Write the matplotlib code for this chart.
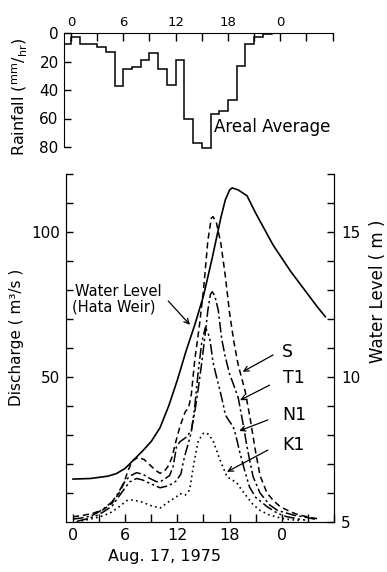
import numpy as np
import matplotlib
matplotlib.use("Agg")
import matplotlib.pyplot as plt

# hourly areal rainfall (mm/hr), bins start at hour -1 (Aug. 17, 1975)
rain_edges = np.arange(-1, 24)
rain_vals = [7.5, 3, 7.5, 7.5, 9.6, 13, 37, 25.6, 23.7, 19, 14, 25.6, 36.6, 19,
             60, 77, 81, 56.6, 54.7, 47.2, 23.2, 7.7, 2.6, 0.7]

# water level at Hata weir, in discharge units (level m = 5 + q / 10)
wl_hours = [0, 2, 4, 5, 6, 7, 8, 9, 10, 11, 12, 13, 14, 15, 16, 17, 17.5, 18,
            18.3, 19, 20, 21, 22, 23, 24, 25, 26, 27, 28, 29]
wl_q = [14.8, 15.0, 15.8, 16.7, 18.5, 21.5, 24.5, 27.8, 32.5, 40, 49, 59, 68,
        78, 91, 105, 111, 114.5, 115.2, 114.5, 112.5, 106.5, 101, 95.5, 91,
        86.5, 82.5, 78.5, 74.5, 70.8]

s_hours = [0, 1, 2.3, 3.5, 4.5, 5.3, 5.8, 6.3, 6.8, 7.5, 8.2, 8.9, 9.5, 10,
           10.5, 11, 11.4, 11.8, 12.3, 12.9, 13.3, 13.6, 14, 14.5, 15, 15.5,
           15.9, 16.1, 16.5, 17, 17.5, 18, 18.5, 19, 19.8, 20.4, 21, 21.5, 22.3,
           23, 23.8, 25, 26, 27.6, 28.4]
s_q = [1.8, 2.2, 3, 4.3, 6.5, 10, 13, 17.5, 21, 22.3, 21.5, 19.5, 17.8, 16.8,
       17.5, 19.5, 22.5, 27.5, 33, 38, 39.5, 44, 56, 67, 80, 97, 104.8, 105.3,
       103, 96, 85, 72, 62, 54, 45, 35, 24, 16, 10, 7.5, 5.3, 3.5, 2.4, 1.4, 1.0]

t1_hours = [0, 1, 2, 2.7, 3.5, 4.5, 5.2, 5.8, 6.5, 7.3, 8, 8.85, 9.6, 10.1,
            10.6, 11.1, 11.5, 11.9, 12.3, 13.1, 13.6, 14, 14.4, 14.8, 15.2,
            15.5, 15.8, 16, 16.3, 16.7, 17.1, 17.5, 18, 18.5, 19, 19.6, 20,
            20.3, 20.7, 21.5, 22.6, 23.5, 25.3, 27, 28]
t1_q = [1, 1.4, 2, 3, 4.5, 7, 10, 13.3, 15.8, 17, 16.5, 15, 13.9, 14, 15, 16,
        19, 26, 27.7, 29.4, 31.7, 38, 46, 55, 65, 73, 78.5, 79.4, 78, 73, 63,
        57, 51, 47, 42.7, 33, 26, 21.4, 15.6, 10, 5.9, 4, 2.4, 1.5, 0.8]

n1_hours = [0.5, 1.5, 2.7, 3.5, 4.5, 5.2, 5.8, 6.5, 7.3, 8, 8.85, 10, 11, 11.8,
            12.4, 12.7, 13, 13.25, 13.6, 14, 14.4, 14.8, 15.2, 15.5, 15.75,
            16.1, 16.5, 17, 17.3, 17.5, 18, 18.4, 18.7, 19.2, 19.8, 20.3, 21,
            22.3, 23.5, 24.6, 26, 27]
n1_q = [0.3, 1, 2.2, 3.5, 5.5, 8.5, 11, 13.8, 15, 14.5, 13.3, 11.8, 12.5, 14,
        16.5, 21, 24.5, 27, 31, 40, 52, 62, 67, 65.5, 62.7, 55, 50, 44, 40, 37,
        34.6, 33, 30, 23.7, 17, 12, 8.5, 5.3, 3, 1.8, 1, 0.5]

k1_hours = [0.4, 1.5, 3.1, 4.2, 5.2, 6.2, 6.9, 8, 9, 10, 11.1, 11.9, 12.3, 12.9,
            13.4, 13.9, 14.4, 15, 15.2, 15.6, 16.1, 16.9, 17.7, 18.3, 18.8,
            19.4, 20, 20.7, 21.5, 22.5, 23.8, 25, 26.2]
k1_q = [0, 0.7, 1.8, 3, 5, 7.4, 7.6, 6.8, 5.6, 4.8, 7.2, 8.7, 9.8, 9.3, 11,
        20.3, 28, 30.6, 30.8, 30.2, 28, 21.4, 15.6, 14.5, 13.6, 11, 8.7, 6, 4,
        2.5, 1.4, 0.8, 0.5]

hour_ticks = [0, 6, 12, 18, 24]
hour_labels = ["0", "6", "12", "18", "0"]

W, H = 387, 572
fig = plt.figure(figsize=(W / 100, H / 100), dpi=100)

# rainfall panel (hanging bars); axis runs a little past 80 so the 81 bar shows
px_per_mm = (147 - 33) / 80
ax1 = fig.add_axes([64.3 / W, 1 - (147 + 3 * px_per_mm) / H,
                    (332.6 - 64.3) / W, 83 * px_per_mm / H])
ax1.stairs(rain_vals, rain_edges, baseline=0, color="black", lw=1.1)
ax1.set_xlim(-0.77, 30)
ax1.set_ylim(83, 0)
for side in ("bottom", "right"):
    ax1.spines[side].set_visible(False)
ax1.spines["left"].set_bounds(0, 80)
ax1.xaxis.tick_top()
ax1.set_xticks(hour_ticks, hour_labels)
ax1.set_xticks(np.arange(0, 31, 3), minor=True)
ax1.tick_params(axis="x", which="both", direction="in", top=True, bottom=False,
                length=6, width=1, labelsize=9.5, pad=3)
ax1.set_yticks([0, 20, 40, 60, 80])
ax1.tick_params(axis="y", direction="in", length=5, width=1, labelsize=11, pad=4)
ax1.text(16.4, 66, "Areal Average", fontsize=12, va="center", ha="left")
fig.text(19.5 / W, 1 - 97 / H, r"Rainfall ($^{\mathrm{mm}}/_{\mathrm{hr}}$)",
         rotation=90, fontsize=11.5, ha="center", va="center")

# discharge / water level panel
ax2 = fig.add_axes([65.6 / W, 1 - 522 / H, (334 - 65.6) / W, (522 - 174) / H])
ax2.plot(wl_hours, wl_q, color="black", lw=1.2)
ax2.plot(s_hours, s_q, color="black", lw=1.1, ls=(0, (4, 2.5)))
ax2.plot(t1_hours, t1_q, color="black", lw=1.1, ls=(0, (7, 2, 1.5, 2)))
ax2.plot(n1_hours, n1_q, color="black", lw=1.1, ls=(0, (7, 2, 1.5, 2, 1.5, 2)))
ax2.plot(k1_hours, k1_q, color="black", lw=1.2, ls=(0, (1, 2)))
ax2.set_xlim(-0.85, 30)
ax2.set_ylim(0, 120)
ax2.spines["top"].set_visible(False)
ax2.set_xticks(hour_ticks, hour_labels)
ax2.set_xticks(np.arange(0, 31, 3), minor=True)
ax2.tick_params(axis="x", which="both", direction="in", length=6, width=1,
                labelsize=11.5, pad=4)
ax2.set_yticks([50, 100])
ax2.set_yticks(np.arange(10, 121, 10), minor=True)
ax2.tick_params(axis="y", which="both", direction="in", length=5, width=1,
                labelsize=11, pad=4, right=False)

ax3 = ax2.twinx()
ax3.set_ylim(5, 17)
ax3.spines["top"].set_visible(False)
ax3.set_yticks([5, 10, 15])
ax3.set_yticks(np.arange(5, 18, 1), minor=True)
ax3.tick_params(axis="y", which="both", direction="in", length=5, width=1,
                labelsize=11, pad=5)

arrow = dict(arrowstyle="->", lw=0.9, color="black", shrinkA=0, shrinkB=0,
             mutation_scale=9)
ax2.text(0.2, 79.4, "Water Level", fontsize=10.5, va="center", ha="left")
ax2.text(-0.1, 74.2, "(Hata Weir)", fontsize=10.5, va="center", ha="left")
ax2.annotate("", xy=(13.45, 68), xytext=(10.95, 76.2), arrowprops=arrow)

labels = [("S", 24.0, 58.7, (23.0, 57.6), (19.5, 51.8)),
          ("T1", 24.1, 49.7, (22.6, 47.2), (19.2, 42.0)),
          ("N1", 24.1, 36.9, (22.4, 35.2), (19.1, 31.4)),
          ("K1", 24.1, 26.5, (22.4, 24.8), (17.7, 17.3))]
for name, tx, ty, start, end in labels:
    ax2.text(tx, ty, name, fontsize=12.5, va="center", ha="left")
    ax2.annotate("", xy=end, xytext=start, arrowprops=arrow)

fig.text(17 / W, 1 - 337 / H, "Discharge ( m\u00b3/s )", rotation=90,
         fontsize=11, ha="center", va="center")
fig.text(378 / W, 1 - 291 / H, "Water Level ( m )", rotation=90,
         fontsize=12, ha="center", va="center")
fig.text(164 / W, 1 - 557 / H, "Aug. 17, 1975", fontsize=11.5,
         ha="center", va="center")

fig.savefig("out.png", dpi=100)
plt.close(fig)
